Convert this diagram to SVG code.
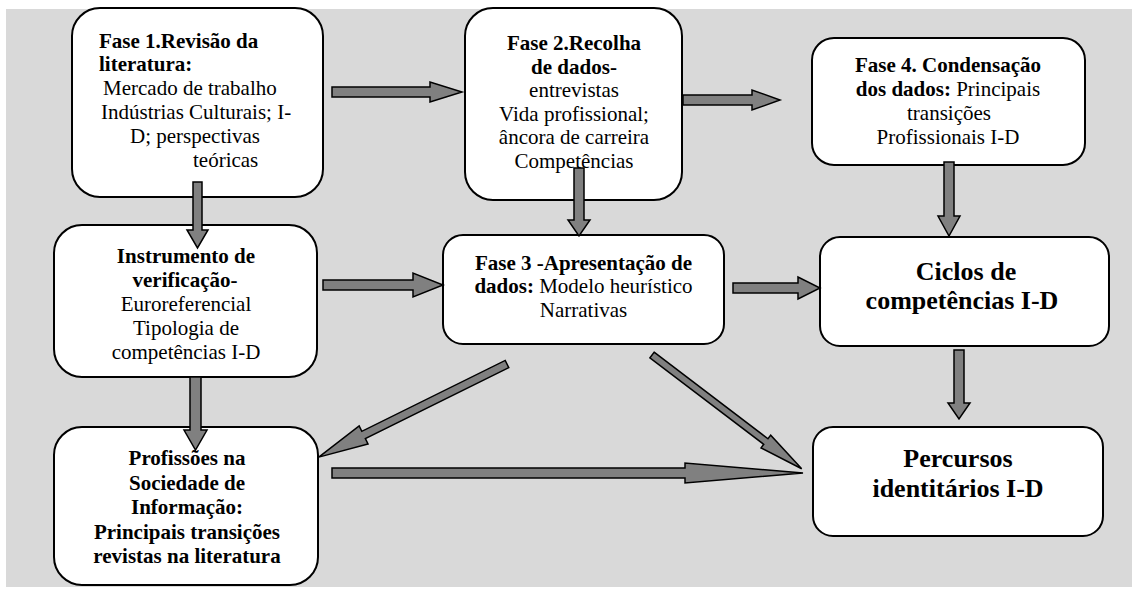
<svg xmlns="http://www.w3.org/2000/svg" width="1132" height="593" viewBox="0 0 1132 593">
<style>
.box{fill:#ffffff;stroke:#000000;stroke-width:2}
.arr{fill:#808080;stroke:#000000;stroke-width:1.5;stroke-linejoin:miter}
text{font-family:'Liberation Serif','Times New Roman',Times,serif;font-size:21px;fill:#000000}
.b{font-weight:bold}
.big{font-size:26px;font-weight:bold}
.m{text-anchor:middle}
</style>
<rect x="0" y="0" width="1132" height="593" fill="#ffffff"/>
<rect x="6" y="9" width="1126" height="578" fill="#d9d9d9"/>

<g id="fase1" font-family="Liberation Serif, serif">
<rect class="box" x="72" y="8" width="251" height="189" rx="28"/>
<text class="b" x="99" y="48">Fase 1.Revisão da</text>
<text class="b" x="99" y="71">literatura:</text>
<text x="103" y="95">Mercado de trabalho</text>
<text x="101" y="119">Indústrias Culturais; I-</text>
<text x="130" y="143">D; perspectivas</text>
<text x="193" y="167">teóricas</text>
</g>

<g id="fase2" font-family="Liberation Serif, serif">
<rect class="box" x="465" y="8" width="217" height="192" rx="28"/>
<text class="b m" x="574" y="50">Fase 2.Recolha</text>
<text class="b m" x="574" y="74">de dados-</text>
<text class="m" x="574" y="97">entrevistas</text>
<text class="m" x="574" y="121">Vida profissional;</text>
<text class="m" x="574" y="144">âncora de carreira</text>
<text class="m" x="574" y="168">Competências</text>
</g>

<g id="fase4" font-family="Liberation Serif, serif">
<rect class="box" x="812" y="38" width="273" height="127" rx="22"/>
<text class="b m" x="948" y="72">Fase 4. Condensação</text>
<text class="m" x="948" y="96"><tspan class="b">dos dados:</tspan> Principais</text>
<text class="m" x="949" y="120">transições</text>
<text class="m" x="948" y="144">Profissionais I-D</text>
</g>

<g id="instrumento" font-family="Liberation Serif, serif">
<rect class="box" x="54" y="225" width="263" height="152" rx="28"/>
<text class="b m" x="186" y="263">Instrumento de</text>
<text class="b m" x="185" y="287">verificação-</text>
<text class="m" x="186" y="311">Euroreferencial</text>
<text class="m" x="186" y="335">Tipologia de</text>
<text class="m" x="186" y="359">competências I-D</text>
</g>

<g id="fase3" font-family="Liberation Serif, serif">
<rect class="box" x="443" y="235" width="281" height="109" rx="20"/>
<text class="b m" x="583.5" y="270">Fase 3 -Apresentação de</text>
<text class="m" x="583.5" y="293"><tspan class="b">dados:</tspan> Modelo heurístico</text>
<text class="m" x="583.5" y="317">Narrativas</text>
</g>

<g id="ciclos" font-family="Liberation Serif, serif">
<rect class="box" x="820" y="237" width="289" height="109" rx="20"/>
<text class="big m" x="966" y="280">Ciclos de</text>
<text class="big m" x="962" y="309">competências I-D</text>
</g>

<g id="profissoes" font-family="Liberation Serif, serif">
<rect class="box" x="54" y="427" width="264" height="158" rx="28"/>
<text class="b m" x="187" y="465">Profissões na</text>
<text class="b m" x="187" y="489.5">Sociedade de</text>
<text class="b m" x="187" y="514">Informação:</text>
<text class="b m" x="187" y="538.5">Principais transições</text>
<text class="b m" x="187" y="563">revistas na literatura</text>
</g>

<g id="percursos" font-family="Liberation Serif, serif">
<rect class="box" x="813" y="427" width="290" height="109" rx="20"/>
<text class="big m" x="958" y="467">Percursos</text>
<text class="big m" x="958" y="497">identitários I-D</text>
</g>

<g id="connectors">
<polygon class="arr" points="332,87 430,87 430,82 462,92 430,102 430,97 332,97"/>
<polygon class="arr" points="683,95 752,95 752,90 780,100 752,110 752,105 683,105"/>
<polygon class="arr" points="323,280 413,280 413,273 443,285 413,297 413,290 323,290"/>
<polygon class="arr" points="733,283 798,283 798,277 820,288 798,299 798,293 733,293"/>
<polygon class="arr" points="332,468 685,468 685,463 803,473 685,483 685,478 332,478"/>
<polygon class="arr" points="193,182 202,182 202,230 208,230 197.5,248 187,230 193,230"/>
<polygon class="arr" points="190,377 201,377 201,430 207,430 195.5,450 184,430 190,430"/>
<polygon class="arr" points="574,168 584,168 584,220 590,220 579,236 568,220 574,220"/>
<polygon class="arr" points="944,162 954,162 954,216 960,216 949,236 938,216 944,216"/>
<polygon class="arr" points="954,350 964,350 964,403 970,403 959,419 948,403 954,403"/>
<polygon class="arr" transform="translate(507,364) rotate(153.68)" points="0,-4 160,-4 160,-10 210,0 160,10 160,4 0,4"/>
<polygon class="arr" transform="translate(652,355) rotate(37.23)" points="0,-3.5 143,-3.5 143,-8 188,0 143,8 143,3.5 0,3.5"/>
</g>
</svg>
